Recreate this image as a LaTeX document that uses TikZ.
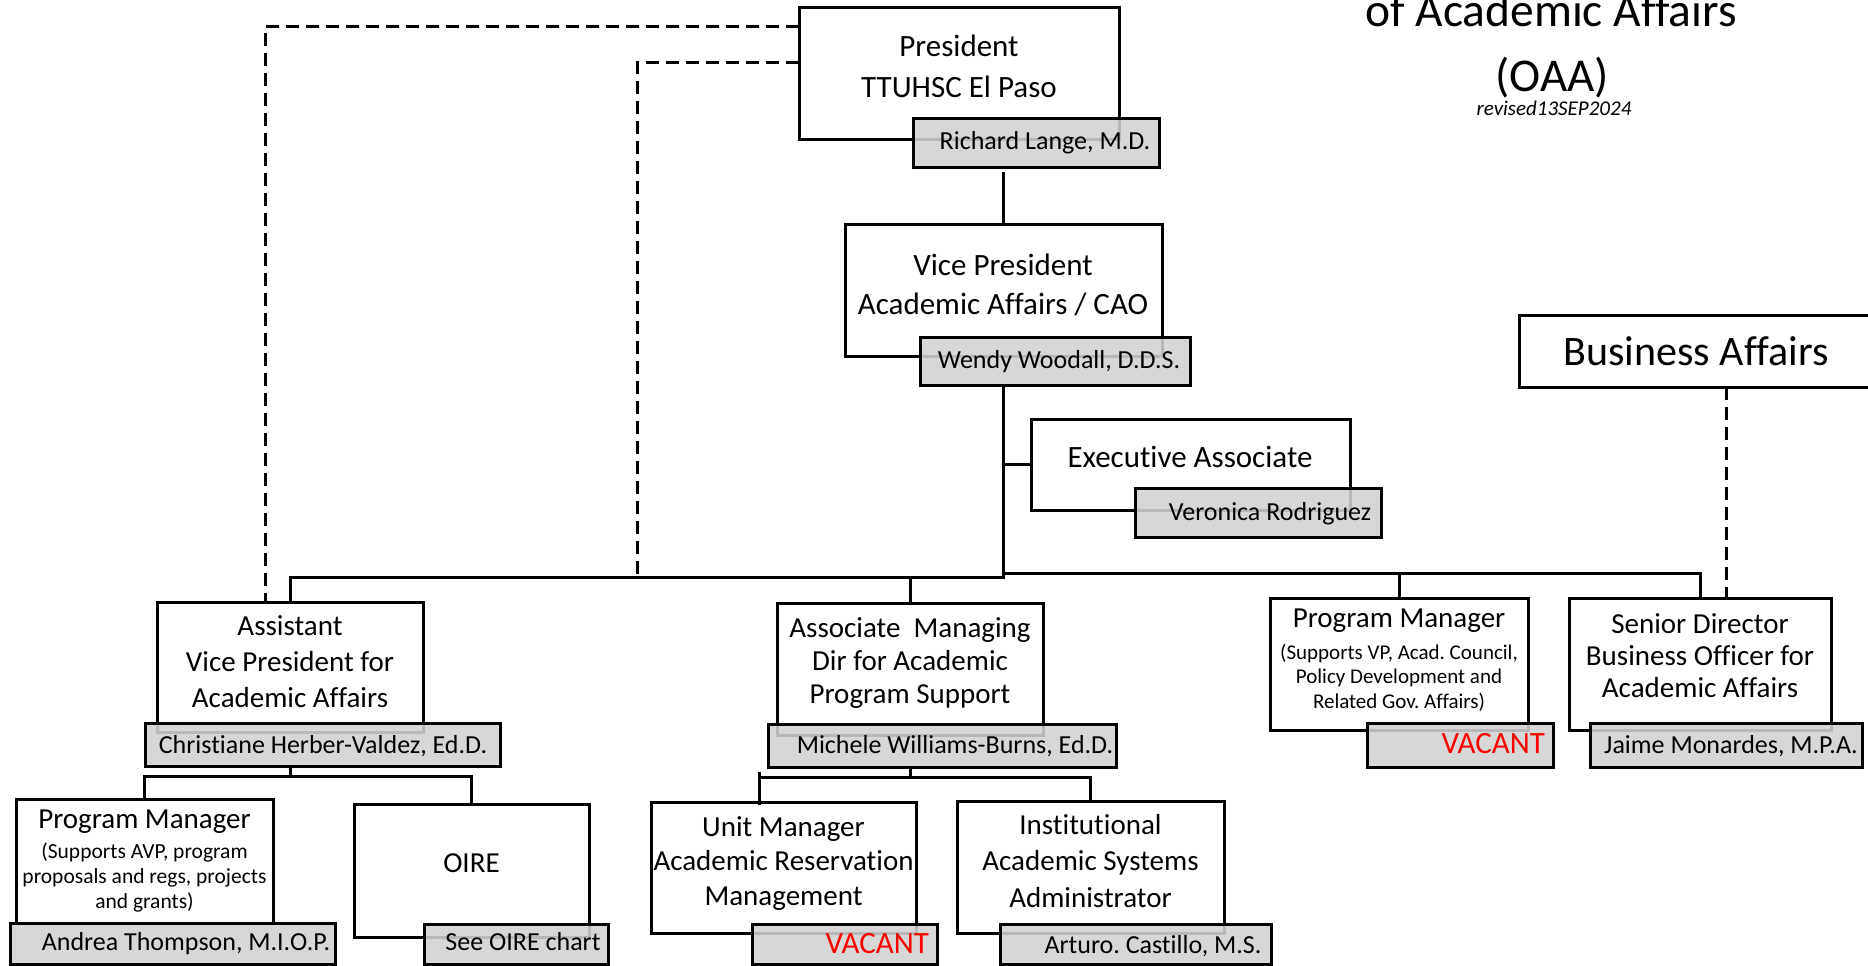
\documentclass[tikz,border=0pt]{standalone}
\usepackage{fontspec}
\setmainfont{Carlito}[Ligatures={NoCommon}]
\usetikzlibrary{calc}
\newcommand\myfs[2]{\fontsize{#1}{#2}\selectfont}
\definecolor{namegrey}{HTML}{D2D2D2}
\definecolor{vacred}{HTML}{FF0000}
\tikzset{
  orgbox/.style={draw=black, line width=3pt, fill=white, inner sep=0pt, outer sep=0pt, anchor=north west},
  namebox/.style={draw=black, line width=3pt, fill=namegrey, fill opacity=0.88, inner sep=0pt, outer sep=0pt, anchor=north west},
  conn/.style={draw=black, line width=3pt},
  dashline/.style={draw=black, line width=3pt, dash pattern=on 13pt off 7pt},
  txt/.style={inner sep=0pt, outer sep=0pt, align=center, anchor=base, text=black},
  bigtxt/.style={txt, font=\myfs{31}{40}},
  midtxt/.style={txt, font=\myfs{29}{35}},
  smalltxt/.style={txt, font=\myfs{21}{24.5}},
  nametxt/.style={txt, font=\myfs{26}{30}},
  vactxt/.style={inner sep=0pt, outer sep=0pt, anchor=base east, text=vacred, font=\myfs{31}{36}},
}
\begin{document}
\frenchspacing
\begin{tikzpicture}[x=1pt, y=-1pt]
\useasboundingbox (0,0) rectangle (1868,966);

% ---------- white boxes ----------
\node[orgbox, minimum width=320pt, minimum height=131pt] (pres) at (799,8) {};
\node[orgbox, minimum width=317pt, minimum height=132pt] (vp) at (845,224) {};
\node[orgbox, minimum width=319pt, minimum height=91pt] (exec) at (1031,419) {};
\node[orgbox, minimum width=361pt, minimum height=72pt] (bus) at (1519,315) {};
\node[orgbox, minimum width=266pt, minimum height=130pt] (avp) at (157,602) {};
\node[orgbox, minimum width=266pt, minimum height=132pt] (amd) at (777,603) {};
\node[orgbox, minimum width=258pt, minimum height=132pt] (pm2) at (1270,598) {};
\node[orgbox, minimum width=262pt, minimum height=132pt] (sd) at (1569,598) {};
\node[orgbox, minimum width=257pt, minimum height=124pt] (pm1) at (16,799) {};
\node[orgbox, minimum width=235pt, minimum height=133pt] (oire) at (354,804) {};
\node[orgbox, minimum width=265pt, minimum height=131pt] (um) at (651,802) {};
\node[orgbox, minimum width=267pt, minimum height=132pt] (ias) at (957,801) {};

% ---------- junction coordinates ----------
\coordinate (jL) at (1003.5,577);
\coordinate (jR) at (1003.5,573);
\coordinate (ja) at (290,776);
\coordinate (jb) at (910,777);
\coordinate (umstem) at (759,772);
\coordinate (d1) at (265,27);
\coordinate (d2) at (637,63);
\coordinate (bx) at (1726,0);

% ---------- connectors ----------
\draw[conn] (vp.north) -- ++(0,-52);
\draw[conn] (vp.center |- 0,385) -- (jL) -- (jL -| avp.north) -- (avp.north);
\draw[conn] (jR) -- (jR -| sd.north) -- (sd.north);
\draw[conn] (jR -| pm2.north) -- (pm2.north);
\draw[conn] (jL -| amd.north) -- (amd.north);
\draw[conn] (exec.west -| vp.center) -- (exec.west);
% children of AVP
\draw[conn] (avp.center |- 0,766) -- (ja);
\draw[conn] (pm1.north) -- (ja -| pm1.north) -- (ja -| oire.north) -- (oire.north);
% children of AMD
\draw[conn] (amd.center |- 0,767) -- (jb);
\draw[conn] (umstem |- jb) -- (jb -| ias.north) -- (ias.north);
\draw[conn] (umstem) -- ($(umstem |- um.north)+(0,3)$);
% dashed lines
\draw[dashline] (pres.west |- d1) -- (d1) -- (d1 |- avp.north);
\draw[dashline] (pres.west |- d2) -- (d2) -- (d2 |- jL);
\draw[dashline] (bus.south -| bx) -- (sd.north -| bx);

% ---------- name boxes ----------
\node[namebox, minimum width=246pt, minimum height=49pt] (presN) at (913,118) {};
\node[namebox, minimum width=270pt, minimum height=48pt] (vpN) at (920,337) {};
\node[namebox, minimum width=246pt, minimum height=49pt] (execN) at (1135,488) {};
\node[namebox, minimum width=355pt, minimum height=43pt] (avpN) at (145,723) {};
\node[namebox, minimum width=348pt, minimum height=43pt] (amdN) at (768,724) {};
\node[namebox, minimum width=186pt, minimum height=44pt] (pm2N) at (1367,723) {};
\node[namebox, minimum width=272pt, minimum height=44pt] (sdN) at (1590,723) {};
\node[namebox, minimum width=325pt, minimum height=41pt] (pm1N) at (10,923) {};
\node[namebox, minimum width=184pt, minimum height=40pt] (oireN) at (424,924) {};
\node[namebox, minimum width=185pt, minimum height=40pt] (umN) at (752,924) {};
\node[namebox, minimum width=271pt, minimum height=40pt] (iasN) at (1000,924) {};

% ---------- title ----------
\node[txt, font=\myfs{47.5}{60}] (title) at (1551,27) {of Academic Affairs};
\node[txt, font=\myfs{47}{60}] (oaa) at (1552,91) {(OAA)};
\node[txt, font=\myfs{21}{25}\itshape] (rev) at (1554,115) {revised13SEP2024};

% ---------- box texts (anchor = baseline of last line) ----------
\node[bigtxt] (presT) at (959,97) {President\\TTUHSC El Paso};
\node[nametxt] (presNT) at (1045,149) {Richard Lange, M.D.};
\node[bigtxt, font=\myfs{31}{39}] (vpT) at (1003,314) {Vice President\\Academic Affairs / CAO};
\node[nametxt] (vpNT) at (1059,368) {Wendy Woodall, D.D.S.};
\node[bigtxt] (execT) at (1190,467) {Executive Associate};
\node[nametxt] (execNT) at (1270,520) {Veronica Rodriguez};
\node[txt, font=\myfs{42}{48}] (busT) at (1696,365) {Business Affairs};

\node[midtxt, font=\myfs{29}{36}] (avpT) at (290,707) {Assistant\\Vice President for\\Academic Affairs};
\node[nametxt] (avpNT) at (323,753) {Christiane Herber-Valdez, Ed.D.};
\node[midtxt, font=\myfs{29}{33}] (amdT) at (910,703) {Associate\ \ Managing\\Dir for Academic\\Program Support};
\node[nametxt] (amdNT) at (955,753) {Michele Williams-Burns, Ed.D.};
\node[midtxt] (pm2T) at (1399,627) {Program Manager};
\node[smalltxt] (pm2S) at (1399,708) {(Supports VP, Acad. Council,\\Policy Development and\\Related Gov. Affairs)};
\node[vactxt] (pm2NT) at (1545,753) {VACANT};
\node[midtxt, font=\myfs{29}{32}] (sdT) at (1700,697) {Senior Director\\Business Officer for\\Academic Affairs};
\node[nametxt] (sdNT) at (1731,753) {Jaime Monardes, M.P.A.};

\node[midtxt] (pm1T) at (144.5,828) {Program Manager};
\node[smalltxt, font=\myfs{21.5}{25}] (pm1S) at (144.5,908) {(Supports AVP, program\\proposals and regs, projects\\and grants)};
\node[nametxt] (pm1NT) at (186,950) {Andrea Thompson, M.I.O.P.};
\node[midtxt] (oireT) at (471.5,872) {OIRE};
\node[nametxt] (oireNT) at (523,950) {See OIRE chart};
\node[midtxt, font=\myfs{29}{34.5}] (umT) at (783.5,905) {Unit Manager\\Academic Reservation\\Management};
\node[vactxt] (umNT) at (929,953) {VACANT};
\node[midtxt, font=\myfs{29}{36.5}] (iasT) at (1090.5,907) {Institutional\\Academic Systems\\Administrator};
\node[nametxt] (iasNT) at (1153,953) {Arturo. Castillo, M.S.};
\end{tikzpicture}
\end{document}
